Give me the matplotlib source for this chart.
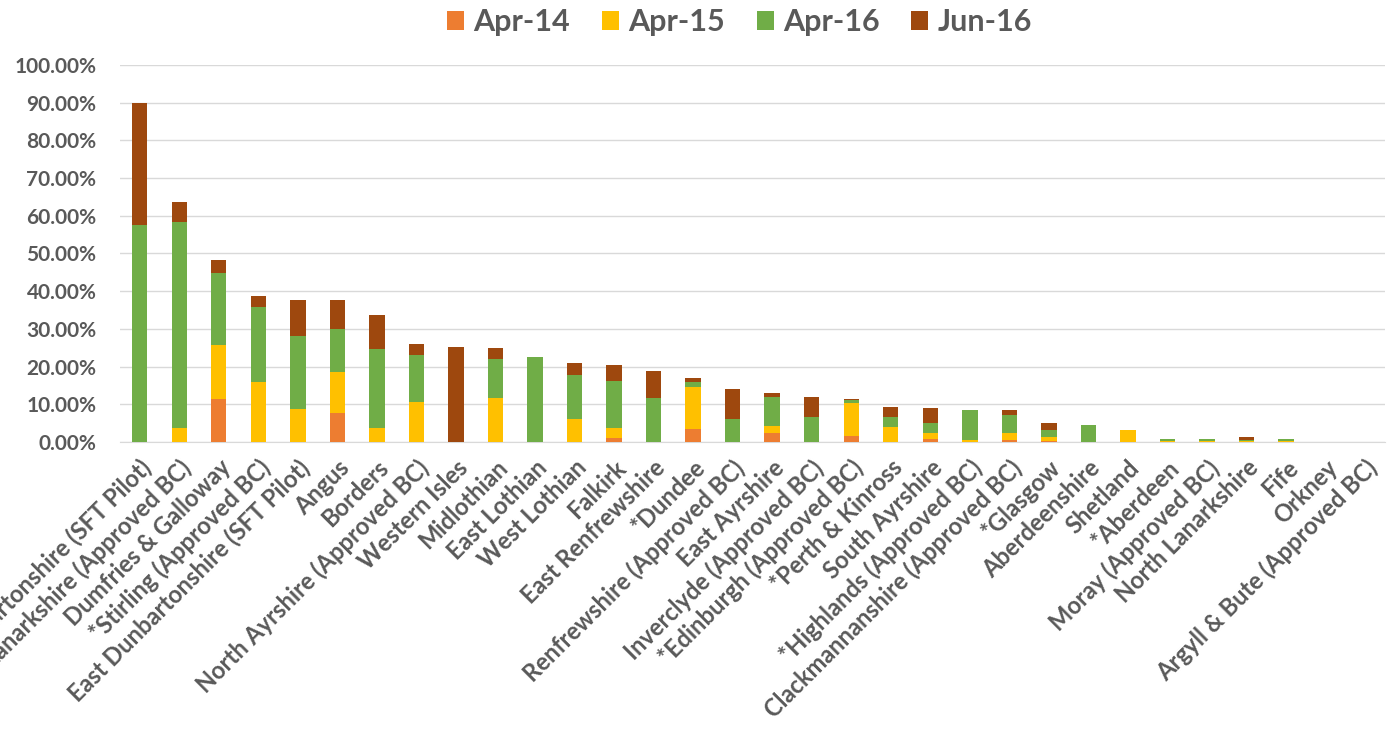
import matplotlib.pyplot as plt
import numpy as np
from matplotlib.ticker import FuncFormatter

plt.rcParams['font.family'] = ['Lato', 'DejaVu Sans']

areas = ['West Dunbartonshire (SFT Pilot)', 'South Lanarkshire (Approved BC)',
         'Dumfries & Galloway', '*Stirling (Approved BC)',
         'East Dunbartonshire (SFT Pilot)', 'Angus', 'Borders',
         'North Ayrshire (Approved BC)', 'Western Isles', 'Midlothian',
         'East Lothian', 'West Lothian', 'Falkirk', 'East Renfrewshire',
         '*Dundee', 'Renfrewshire (Approved BC)', 'East Ayrshire',
         'Inverclyde (Approved BC)', '*Edinburgh (Approved BC)',
         '*Perth & Kinross', 'South Ayrshire', '*Highlands (Approved BC)',
         'Clackmannanshire (Approved BC)', '*Glasgow', 'Aberdeenshire',
         'Shetland', '*Aberdeen', 'Moray (Approved BC)', 'North Lanarkshire',
         'Fife', 'Orkney', 'Argyll & Bute (Approved BC)']

apr14 = [0, 0, 11.3, 0, 0, 7.6, 0, 0, 0, 0, 0, 0, 1.0, 0, 3.4, 0, 2.5, 0,
         1.6, 0, 0.7, 0, 0.5, 0.3, 0, 0, 0, 0, 0, 0, 0, 0]
apr15 = [0, 3.8, 14.4, 16.0, 8.7, 11.0, 3.8, 10.7, 0, 11.6, 0, 6.0, 2.6, 0,
         11.3, 0, 1.7, 0, 8.8, 4.1, 1.6, 0.5, 2.0, 1.0, 0, 3.2, 0.2, 0.2,
         0.2, 0.2, 0, 0]
apr16 = [57.5, 54.6, 19.2, 19.9, 19.4, 11.3, 20.8, 12.3, 0, 10.3, 22.6, 11.8,
         12.7, 11.6, 1.3, 6.0, 7.7, 6.5, 0.7, 2.4, 2.7, 8.0, 4.7, 1.9, 4.5,
         0, 0.6, 0.6, 0.3, 0.5, 0, 0]
jun16 = [32.3, 5.2, 3.4, 2.9, 9.6, 7.8, 9.0, 2.9, 25.3, 2.9, 0, 3.1, 4.1, 7.3,
         0.9, 8.1, 1.0, 5.3, 0.3, 2.7, 3.9, 0, 1.3, 1.9, 0, 0, 0, 0, 0.8, 0,
         0, 0]

series = [('Apr-14', apr14, '#ED7D31'), ('Apr-15', apr15, '#FFC000'),
          ('Apr-16', apr16, '#70AD47'), ('Jun-16', jun16, '#9E480E')]

fig = plt.figure(figsize=(13.9, 7.36), dpi=100)
ax = fig.add_axes([0.0863, 0.3995, 0.91, 0.5122])

x = np.arange(len(areas))
bottom = np.zeros(len(areas))
for name, vals, col in series:
    vals = np.array(vals)
    ax.bar(x, vals, 0.39, bottom=bottom, color=col, label=name, zorder=3)
    bottom += vals

ax.set_ylim(0, 100)
ax.set_xlim(-0.5, len(areas) - 0.5)
ax.set_yticks(np.arange(0, 101, 10))
ax.yaxis.set_major_formatter(FuncFormatter(lambda v, p: '%.2f%%' % v))
ax.grid(axis='y', color='#D9D9D9', linewidth=1, zorder=0)
for s in ['top', 'right', 'left']:
    ax.spines[s].set_visible(False)
ax.spines['bottom'].set_color('#D9D9D9')
ax.tick_params(axis='both', length=0, colors='#595959')
ax.tick_params(axis='y', pad=17, labelsize=15)
ax.tick_params(axis='x', pad=10)
ax.set_xticks(x)
ax.set_xticklabels(areas, rotation=45, ha='right', rotation_mode='anchor',
                   fontsize=17, fontweight='bold', color='#595959')
for lab in ax.get_yticklabels():
    lab.set_fontweight('bold')

leg = fig.legend(loc='upper center', bbox_to_anchor=(0.532, 1.026), ncol=4,
                 frameon=False, fontsize=22, handlelength=0.55,
                 handleheight=0.55, columnspacing=1.05, handletextpad=0.3)
for t in leg.get_texts():
    t.set_color('#595959')
    t.set_fontweight('bold')

fig.savefig('out.png', dpi=100)
